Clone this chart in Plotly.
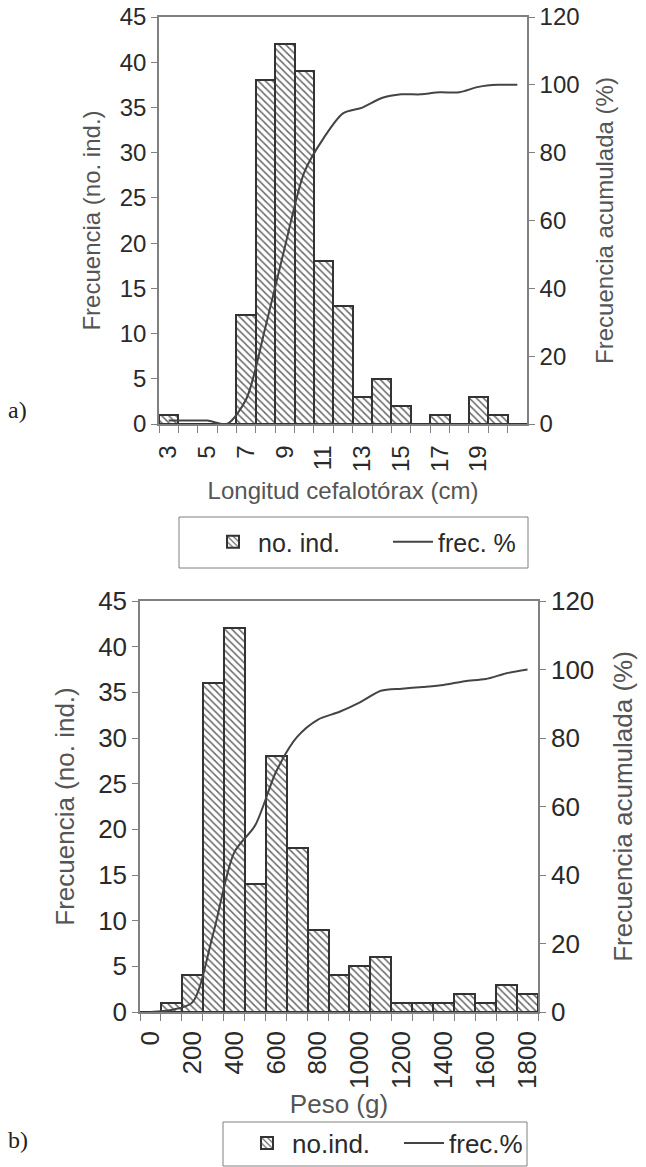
import plotly.graph_objects as go

W, H = 646, 1167

# ---------------- data ----------------
top_categories = ["3", "4", "5", "6", "7", "8", "9", "10", "11", "12", "13", "14",
                  "15", "16", "17", "18", "19", "20", "21"]
top_ticklabels = ["3", "", "5", "", "7", "", "9", "", "11", "", "13", "", "15", "",
                  "17", "", "19", "", ""]
top_counts = [1, 0, 0, 0, 12, 38, 42, 39, 18, 13, 3, 5, 2, 0, 1, 0, 3, 1, 0]
top_cum = [1, 1, 1, 0, 7.3, 28.7, 52.2, 74.2, 84.3, 91.6, 93.3, 96.1, 97.2, 97.2,
           97.8, 97.8, 99.4, 100, 100]

bot_categories = ["0", "100", "200", "300", "400", "500", "600", "700", "800", "900",
                  "1000", "1100", "1200", "1300", "1400", "1500", "1600", "1700", "1800"]
bot_ticklabels = ["0", "", "200", "", "400", "", "600", "", "800", "", "1000", "",
                  "1200", "", "1400", "", "1600", "", "1800"]
bot_counts = [0, 1, 4, 36, 42, 14, 28, 18, 9, 4, 5, 6, 1, 1, 1, 2, 1, 3, 2]
bot_cum = [0, 0.6, 2.8, 23.0, 46.6, 54.5, 70.2, 80.3, 85.4, 87.6, 90.4, 93.8, 94.4,
           94.9, 95.5, 96.6, 97.2, 98.9, 100]


# ---------------- helpers ----------------
def px_x(v):
    return v / W


def px_y(v):
    return 1 - v / H


FONT = "Liberation Sans, Arial, sans-serif"
TICK_C = "#2a2a2a"
TITLE_C = "#555555"
AXIS_C = "#808080"
BAR_LINE = "#333333"
LINE_C = "#444444"

pattern = dict(shape="\\", fgcolor="#6a6a6a", bgcolor="white", size=5, solidity=0.3,
               fillmode="replace")

fig = go.Figure()

fig.add_trace(go.Bar(x=top_categories, y=top_counts, xaxis="x", yaxis="y",
                     name="no. ind.", legend="legend",
                     marker=dict(color="white", pattern=pattern,
                                 line=dict(color=BAR_LINE, width=2))))
fig.add_trace(go.Scatter(x=top_categories, y=top_cum, xaxis="x", yaxis="y2",
                         name="frec. %", legend="legend", mode="lines",
                         line=dict(color=LINE_C, width=2, shape="spline", smoothing=0.8)))

fig.add_trace(go.Bar(x=bot_categories, y=bot_counts, xaxis="x2", yaxis="y3",
                     name="no.ind.", legend="legend2",
                     marker=dict(color="white", pattern=pattern,
                                 line=dict(color=BAR_LINE, width=2))))
fig.add_trace(go.Scatter(x=bot_categories, y=bot_cum, xaxis="x2", yaxis="y4",
                         name="frec.%", legend="legend2", mode="lines",
                         line=dict(color=LINE_C, width=2, shape="spline", smoothing=0.8)))


def xaxis_cfg(domain, anchor, cats, labels, fs, title, standoff, lstand):
    return dict(domain=domain, anchor=anchor, type="category", automargin=False,
                tickmode="array", tickvals=cats, ticktext=labels,
                tickson="boundaries", ticks="outside", ticklen=7, tickcolor=AXIS_C,
                tickwidth=1, tickangle=-90, showline=True, linecolor=AXIS_C,
                linewidth=1.5, mirror=True, showgrid=False, zeroline=False,
                ticklabelstandoff=lstand,
                tickfont=dict(family=FONT, size=fs, color=TICK_C),
                title=dict(text=title, standoff=standoff,
                           font=dict(family=FONT, size=fs, color=TITLE_C)))


def yaxis_cfg(domain, anchor, rng, dtick, fs, title, standoff, side="left", overlay=None):
    d = dict(domain=domain, anchor=anchor, range=rng, dtick=dtick, side=side,
             automargin=False,
             ticks="outside", ticklen=6, tickcolor=AXIS_C, tickwidth=1,
             showline=True, linecolor=AXIS_C, linewidth=1.5, showgrid=False,
             zeroline=False,
             tickfont=dict(family=FONT, size=fs, color=TICK_C),
             title=dict(text=title, standoff=standoff,
                        font=dict(family=FONT, size=fs, color=TITLE_C)))
    if overlay:
        d["overlaying"] = overlay
    return d


top_xd = [px_x(159), px_x(527)]
top_yd = [px_y(424), px_y(17)]
bot_xd = [px_x(140), px_x(538)]
bot_yd = [px_y(1012), px_y(601)]

fig.update_layout(
    width=W, height=H,
    margin=dict(l=0, r=0, t=0, b=0, autoexpand=False),
    paper_bgcolor="white", plot_bgcolor="white",
    bargap=0,
    font=dict(family=FONT, color=TICK_C),
    xaxis=xaxis_cfg(top_xd, "y", top_categories, top_ticklabels, 24,
                    "Longitud cefalotórax (cm)", 11, 10),
    yaxis=yaxis_cfg(top_yd, "x", [0, 45], 5, 24, "Frecuencia (no. ind.)", 12),
    yaxis2=yaxis_cfg(top_yd, "x", [0, 120], 20, 24, "Frecuencia acumulada (%)", 18,
                     side="right", overlay="y"),
    xaxis2=xaxis_cfg(bot_xd, "y3", bot_categories, bot_ticklabels, 26, "Peso (g)", 0, 7),
    yaxis3=yaxis_cfg(bot_yd, "x2", [0, 45], 5, 26, "Frecuencia (no. ind.)", 16),
    yaxis4=yaxis_cfg(bot_yd, "x2", [0, 120], 20, 26, "Frecuencia acumulada (%)", 20,
                     side="right", overlay="y3"),
    legend=dict(orientation="h", x=px_x(208), y=px_y(542), xanchor="left",
                yanchor="middle", bgcolor="rgba(0,0,0,0)", itemwidth=40,
                entrywidth=125, font=dict(family=FONT, size=25, color=TICK_C)),
    legend2=dict(orientation="h", x=px_x(242), y=px_y(1143), xanchor="left",
                 yanchor="middle", bgcolor="rgba(0,0,0,0)", itemwidth=40,
                 entrywidth=102, font=dict(family=FONT, size=26, color=TICK_C)),
    shapes=[
        dict(type="rect", xref="paper", yref="paper", x0=px_x(179), x1=px_x(528),
             y0=px_y(568), y1=px_y(517), line=dict(color=AXIS_C, width=1)),
        dict(type="rect", xref="paper", yref="paper", x0=px_x(223), x1=px_x(527),
             y0=px_y(1166), y1=px_y(1122), line=dict(color=AXIS_C, width=1)),
    ],
    annotations=[
        dict(text="a)", xref="paper", yref="paper", x=px_x(6), y=px_y(410),
             xanchor="left", yanchor="middle", showarrow=False,
             font=dict(family="Liberation Serif, serif", size=24, color="#222")),
        dict(text="b)", xref="paper", yref="paper", x=px_x(6), y=px_y(1140),
             xanchor="left", yanchor="middle", showarrow=False,
             font=dict(family="Liberation Serif, serif", size=24, color="#222")),
    ],
)

fig.write_html("out.html", config={"displayModeBar": False},
               post_script="document.body.style.margin='0';"
                           "document.body.style.overflow='hidden';")
